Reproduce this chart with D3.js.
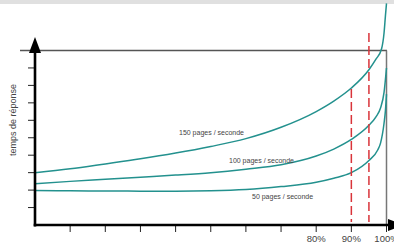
<!DOCTYPE html>
<html>
<head>
<meta charset="utf-8">
<script src="https://cdn.jsdelivr.net/npm/d3@7"></script>
<style>
body { margin: 0; background: #fff; }
svg { display: block; font-family: "Liberation Sans", Arial, sans-serif; }
</style>
</head>
<body>
<div id="chart"></div>
<script>
// utilisation (%) and response time (arbitrary units)
var util150 = [0, 10, 20, 30, 40, 50, 60, 70, 80, 85, 90, 95, 97, 98.6, 99.3, 99.7, 100];
var resp150 = [3.0, 3.22, 3.5, 3.79, 4.12, 4.5, 4.95, 5.6, 6.5, 7.1, 7.85, 8.9, 9.5, 10.1, 11, 12, 12.7];

var util100 = [0, 10, 20, 30, 40, 50, 60, 70, 80, 85, 90, 95, 97, 98.3, 99.3, 100];
var resp100 = [2.36, 2.5, 2.62, 2.74, 2.86, 3.0, 3.2, 3.45, 3.95, 4.35, 4.9, 5.71, 6.2, 6.7, 7.6, 9];

var util50 = [0, 10, 20, 30, 40, 50, 60, 70, 80, 85, 90, 95, 97.5, 98.3, 99.3, 99.7, 100];
var resp50 = [1.98, 1.96, 1.95, 1.94, 1.94, 1.96, 2.03, 2.2, 2.45, 2.68, 3.0, 3.7, 4.3, 4.69, 5.83, 6.57, 7.5];

var seriesNames = ["150 pages / seconde", "100 pages / seconde", "50 pages / seconde"];
var xTicks = [10, 20, 30, 40, 50, 60, 70, 80, 90, 100];
var xTickLabels = {80: "80%", 90: "90%", 100: "100%"};
var yTicks = [1, 2, 3, 4, 5, 6, 7, 8, 9];
var limits = [90, 95];   // red dashed markers
var limitTops = [7.8, 11];

var w = 394, h = 244;
var teal = "#23918e";

var xScale = d3.scaleLinear().domain([0, 100]).range([35, 386.5]);
var yScale = d3.scaleLinear().domain([0, 10]).range([225, 50.5]);

var svg = d3.select("#chart").append("svg")
	.attr("width", w)
	.attr("height", h);

// grey strip at the top
svg.append("rect")
	.attr("x", 0).attr("y", 0)
	.attr("width", w).attr("height", 4)
	.attr("fill", "#e0e0e0");

// box: top line and right vertical line
svg.append("line")
	.attr("x1", 20).attr("x2", xScale(100) + 0.5)
	.attr("y1", yScale(10)).attr("y2", yScale(10))
	.attr("stroke", "#555").attr("stroke-width", 1.5);
svg.append("line")
	.attr("x1", xScale(100)).attr("x2", xScale(100))
	.attr("y1", yScale(10)).attr("y2", yScale(0))
	.attr("stroke", "#777").attr("stroke-width", 1.5);

// curves
var line = d3.line()
	.x(function(d) { return xScale(d[0]); })
	.y(function(d) { return yScale(d[1]); })
	.curve(d3.curveMonotoneX);

var series = [d3.zip(util150, resp150), d3.zip(util100, resp100), d3.zip(util50, resp50)];

svg.selectAll("path.curve")
	.data(series)
	.enter()
	.append("path")
	.attr("class", "curve")
	.attr("d", line)
	.attr("fill", "none")
	.attr("stroke", teal)
	.attr("stroke-width", 1.5);

// red dashed lines at 90% and 95%
svg.selectAll("line.limit")
	.data(limits)
	.enter()
	.append("line")
	.attr("class", "limit")
	.attr("x1", function(d) { return xScale(d); })
	.attr("x2", function(d) { return xScale(d); })
	.attr("y1", function(d, i) { return yScale(limitTops[i]); })
	.attr("y2", yScale(0) - 3)
	.attr("stroke", "#d9343a")
	.attr("stroke-width", 1.5)
	.attr("stroke-dasharray", "9,4");

// curve labels
var labelPos = [[179, 135], [229, 163], [252, 198.5]];
svg.selectAll("text.serie")
	.data(seriesNames)
	.enter()
	.append("text")
	.attr("class", "serie")
	.attr("x", function(d, i) { return labelPos[i][0]; })
	.attr("y", function(d, i) { return labelPos[i][1]; })
	.attr("font-size", 7)
	.attr("fill", "#444")
	.text(function(d) { return d; });

// x ticks
svg.selectAll("line.xtick")
	.data(xTicks)
	.enter()
	.append("line")
	.attr("class", "xtick")
	.attr("x1", function(d) { return xScale(d); })
	.attr("x2", function(d) { return xScale(d); })
	.attr("y1", yScale(0)).attr("y2", yScale(0) + 7)
	.attr("stroke", "#222").attr("stroke-width", 1);

svg.selectAll("text.xlabel")
	.data(xTicks.filter(function(d) { return xTickLabels[d]; }))
	.enter()
	.append("text")
	.attr("class", "xlabel")
	.attr("x", function(d) { return xScale(d); })
	.attr("y", 242)
	.attr("text-anchor", "middle")
	.attr("font-size", 9.5)
	.attr("fill", "#444")
	.text(function(d) { return xTickLabels[d]; });

// y ticks
svg.selectAll("line.ytick")
	.data(yTicks)
	.enter()
	.append("line")
	.attr("class", "ytick")
	.attr("x1", 28).attr("x2", xScale(0))
	.attr("y1", function(d) { return yScale(d); })
	.attr("y2", function(d) { return yScale(d); })
	.attr("stroke", "#222").attr("stroke-width", 1);

// axes (thick black) with arrow heads
svg.append("line")
	.attr("x1", xScale(0)).attr("x2", xScale(0))
	.attr("y1", yScale(0) + 1.5).attr("y2", 50)
	.attr("stroke", "#000").attr("stroke-width", 2.6);
svg.append("line")
	.attr("x1", 33.7).attr("x2", 392)
	.attr("y1", yScale(0)).attr("y2", yScale(0))
	.attr("stroke", "#000").attr("stroke-width", 2.4);

svg.append("path")
	.attr("d", "M" + xScale(0) + ",37L" + (xScale(0) + 6) + ",53L" + (xScale(0) - 6) + ",53Z")
	.attr("fill", "#000");
svg.append("path")
	.attr("d", "M404," + yScale(0) + "L388," + (yScale(0) - 6) + "L388," + (yScale(0) + 6) + "Z")
	.attr("fill", "#000");

// y axis label
svg.append("text")
	.attr("transform", "translate(16,120) rotate(-90)")
	.attr("text-anchor", "middle")
	.attr("font-size", 9)
	.attr("fill", "#444")
	.text("temps de réponse");
</script>
</body>
</html>
